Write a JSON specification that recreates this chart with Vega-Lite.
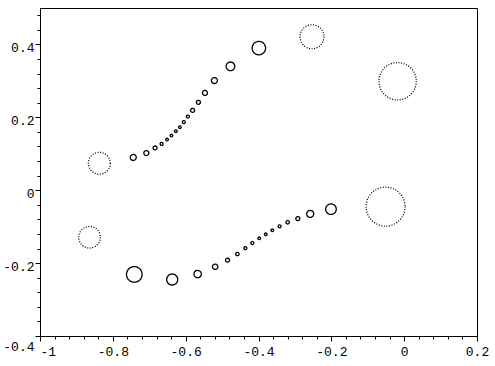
{
  "$schema": "https://vega.github.io/schema/vega-lite/v6.json",
  "width": 437,
  "height": 328,
  "autosize": {"type": "none"},
  "padding": {"left": 40, "top": 8, "right": 18, "bottom": 30},
  "background": "white",
  "config": {
    "view": {"stroke": "black", "strokeWidth": 1},
    "axis": {
      "domainColor": "black",
      "tickColor": "black",
      "labelColor": "black",
      "labelFont": "Liberation Mono",
      "labelFontSize": 13,
      "grid": false,
      "title": null
    }
  },
  "data": {
    "values": [
      {"arc": "upper", "x": -0.837, "y": 0.074, "r": 0.030},
      {"arc": "upper", "x": -0.744, "y": 0.090, "r": 0.0082},
      {"arc": "upper", "x": -0.708, "y": 0.102, "r": 0.0068},
      {"arc": "upper", "x": -0.684, "y": 0.116, "r": 0.0055},
      {"arc": "upper", "x": -0.666, "y": 0.127, "r": 0.0041},
      {"arc": "upper", "x": -0.651, "y": 0.139, "r": 0.0036},
      {"arc": "upper", "x": -0.639, "y": 0.150, "r": 0.0036},
      {"arc": "upper", "x": -0.627, "y": 0.162, "r": 0.0036},
      {"arc": "upper", "x": -0.616, "y": 0.173, "r": 0.0036},
      {"arc": "upper", "x": -0.605, "y": 0.187, "r": 0.0041},
      {"arc": "upper", "x": -0.594, "y": 0.202, "r": 0.0041},
      {"arc": "upper", "x": -0.581, "y": 0.219, "r": 0.0055},
      {"arc": "upper", "x": -0.565, "y": 0.241, "r": 0.0055},
      {"arc": "upper", "x": -0.547, "y": 0.267, "r": 0.0068},
      {"arc": "upper", "x": -0.521, "y": 0.301, "r": 0.0082},
      {"arc": "upper", "x": -0.477, "y": 0.340, "r": 0.0118},
      {"arc": "upper", "x": -0.399, "y": 0.390, "r": 0.0184},
      {"arc": "upper", "x": -0.253, "y": 0.421, "r": 0.0329},
      {"arc": "upper", "x": -0.018, "y": 0.299, "r": 0.0512},
      {"arc": "lower", "x": -0.864, "y": -0.129, "r": 0.0296},
      {"arc": "lower", "x": -0.741, "y": -0.231, "r": 0.0214},
      {"arc": "lower", "x": -0.637, "y": -0.245, "r": 0.0151},
      {"arc": "lower", "x": -0.567, "y": -0.230, "r": 0.0101},
      {"arc": "lower", "x": -0.519, "y": -0.210, "r": 0.0074},
      {"arc": "lower", "x": -0.485, "y": -0.192, "r": 0.0055},
      {"arc": "lower", "x": -0.458, "y": -0.175, "r": 0.0047},
      {"arc": "lower", "x": -0.436, "y": -0.159, "r": 0.0041},
      {"arc": "lower", "x": -0.417, "y": -0.145, "r": 0.0041},
      {"arc": "lower", "x": -0.398, "y": -0.132, "r": 0.0036},
      {"arc": "lower", "x": -0.380, "y": -0.121, "r": 0.0036},
      {"arc": "lower", "x": -0.362, "y": -0.110, "r": 0.0036},
      {"arc": "lower", "x": -0.342, "y": -0.099, "r": 0.0041},
      {"arc": "lower", "x": -0.320, "y": -0.088, "r": 0.0047},
      {"arc": "lower", "x": -0.292, "y": -0.078, "r": 0.0055},
      {"arc": "lower", "x": -0.258, "y": -0.065, "r": 0.0096},
      {"arc": "lower", "x": -0.201, "y": -0.052, "r": 0.0145},
      {"arc": "lower", "x": -0.051, "y": -0.045, "r": 0.0534}
    ]
  },
  "resolve": {"axis": {"x": "independent", "y": "independent"}},
  "layer": [
    {
      "mark": {"type": "point", "filled": false, "shape": "circle", "color": "black", "strokeWidth": 1.3, "opacity": 1},
      "encoding": {
        "x": {
          "field": "x", "type": "quantitative",
          "scale": {"domain": [-1, 0.2], "nice": false, "zero": false},
          "axis": {
            "orient": "bottom",
            "values": [-1, -0.96, -0.92, -0.88, -0.84, -0.8, -0.76, -0.72, -0.68, -0.64, -0.6, -0.56, -0.52, -0.48, -0.44, -0.4, -0.36, -0.32, -0.28, -0.24, -0.2, -0.16, -0.12, -0.08, -0.04, 0, 0.04, 0.08, 0.12, 0.16, 0.2],
            "labels": false, "tickSize": 3, "domain": true
          }
        },
        "y": {
          "field": "y", "type": "quantitative",
          "scale": {"domain": [-0.4, 0.5], "nice": false, "zero": false},
          "axis": {
            "orient": "left",
            "values": [-0.4, -0.36, -0.32, -0.28, -0.24, -0.2, -0.16, -0.12, -0.08, -0.04, 0, 0.04, 0.08, 0.12, 0.16, 0.2, 0.24, 0.28, 0.32, 0.36, 0.4, 0.44, 0.48],
            "labels": false, "tickSize": 3, "domain": true
          }
        },
        "size": {
          "field": "r", "type": "quantitative", "legend": null,
          "scale": {"type": "pow", "exponent": 2, "domain": [0, 0.06], "range": [0, 1918]}
        },
        "strokeDash": {
          "condition": {"test": "datum.r > 0.025", "value": [1, 1.6]},
          "value": [1, 0]
        }
      }
    },
    {
      "mark": {"type": "point", "filled": false, "opacity": 0},
      "encoding": {
        "x": {
          "field": "x", "type": "quantitative",
          "scale": {"domain": [-1, 0.2], "nice": false, "zero": false},
          "axis": {
            "orient": "bottom",
            "values": [-1, -0.8, -0.6, -0.4, -0.2, 0, 0.2],
            "labelExpr": "'' + datum.value",
            "tickSize": 5, "labelPadding": 4, "labelBaseline": "top",
            "labelAlign": {"condition": {"test": "datum.value == -1", "value": "left"}, "value": "center"}
          }
        },
        "y": {
          "field": "y", "type": "quantitative",
          "scale": {"domain": [-0.4, 0.5], "nice": false, "zero": false},
          "axis": {
            "orient": "left",
            "values": [-0.4, -0.2, 0, 0.2, 0.4],
            "labelExpr": "'' + datum.value",
            "tickSize": 5, "labelPadding": 1,
            "labelOffset": {"condition": {"test": "datum.value == -0.4", "value": 10}, "value": 3}
          }
        }
      }
    }
  ]
}
